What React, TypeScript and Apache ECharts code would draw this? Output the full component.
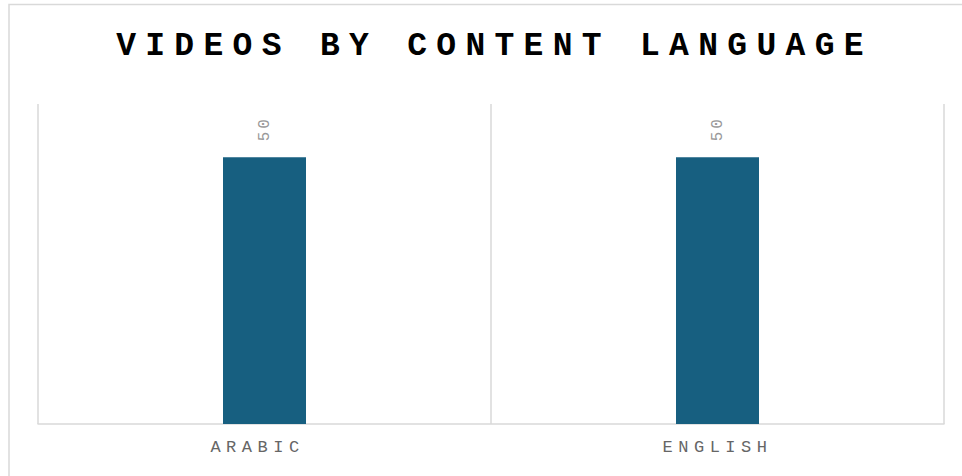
import React, { useEffect, useRef } from "react";
import * as echarts from "echarts";

const titleText = "VIDEOS BY CONTENT LANGUAGE";
const categories = ["ARABIC", "ENGLISH"];
const videoCounts = [50, 50];
const valueMin = 0;
const valueMax = 60;

const MONO = "'Courier New', 'Liberation Mono', monospace";

export default function App() {
  const ref = useRef<HTMLDivElement>(null);

  useEffect(() => {
    if (!ref.current) return;
    const chart = echarts.init(ref.current, undefined, { renderer: "svg" });
    chart.setOption({
      animation: false,
      backgroundColor: "#ffffff",
      graphic: [
        {
          type: "rect",
          silent: true,
          shape: { x: 9, y: 4.5, width: 1200, height: 1000 },
          style: { fill: "none", stroke: "#d9d9d9", lineWidth: 1.5 },
        },
        {
          type: "text",
          x: 494.5,
          y: 46.5,
          style: {
            text: titleText,
            fontFamily: MONO,
            fontSize: 33,
            fontWeight: "bold",
            fill: "#000000",
            textAlign: "center",
            textVerticalAlign: "middle",
          },
        },
      ],
      grid: { left: 38, right: 18, top: 104, bottom: 52 },
      xAxis: {
        type: "category",
        data: [
          { value: categories[0], textStyle: { padding: [0, 14, 0, 0] } },
          { value: categories[1] },
        ],
        axisLine: { lineStyle: { color: "#d9d9d9", width: 1.5 } },
        axisTick: { show: false },
        splitLine: { show: true, lineStyle: { color: "#d9d9d9", width: 1.5 } },
        axisLabel: {
          color: "#666666",
          fontSize: 17,
          fontFamily: MONO,
          margin: 15,
        },
      },
      yAxis: { type: "value", min: valueMin, max: valueMax, show: false },
      series: [
        {
          type: "bar",
          data: videoCounts,
          barWidth: 83,
          itemStyle: { color: "#175f80" },
          label: {
            show: true,
            position: "top",
            rotate: 90,
            align: "left",
            verticalAlign: "middle",
            distance: 16,
            color: "#999999",
            fontSize: 16,
            fontFamily: MONO,
          },
        },
      ],
    });
    return () => chart.dispose();
  }, []);

  return (
    <>
      <style>{`
        #chart text[style*="33px"] { letter-spacing: 9.3px; }
        #chart text[style*="17px"] { letter-spacing: 5.5px; }
        #chart text[style*="16px"] { letter-spacing: 3px; }
      `}</style>
      <div
        id="chart"
        ref={ref}
        style={{ position: "fixed", left: 0, top: 0, width: 962, height: 476 }}
      />
    </>
  );
}
